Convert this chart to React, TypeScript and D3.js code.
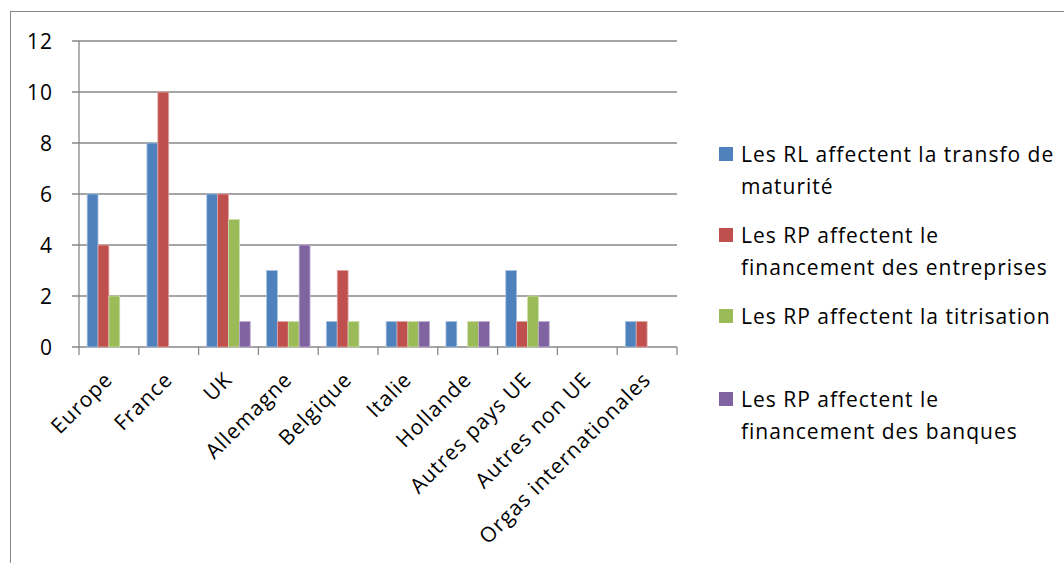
import React from "react";
import * as d3 from "d3";

const categories = [
  "Europe",
  "France",
  "UK",
  "Allemagne",
  "Belgique",
  "Italie",
  "Hollande",
  "Autres pays UE",
  "Autres non UE",
  "Orgas internationales",
];

const seriesNames = [
  ["Les RL affectent la transfo de", "maturité"],
  ["Les RP affectent le", "financement des entreprises"],
  ["Les RP affectent la titrisation"],
  ["Les RP affectent le", "financement des banques"],
];

const rlTransfo = [6, 8, 6, 3, 1, 1, 1, 3, 0, 1];
const rpEntreprises = [4, 10, 6, 1, 3, 1, 0, 1, 0, 1];
const rpTitrisation = [2, 0, 5, 1, 1, 1, 1, 2, 0, 0];
const rpBanques = [0, 0, 1, 4, 0, 1, 1, 1, 0, 0];

const yTicks = [0, 2, 4, 6, 8, 10, 12];

const colors = ["#4F81BD", "#C0504D", "#9BBB59", "#8064A2"];
const strokes = ["#a9c2e0", "#e0a8a6", "#cddcae", "#c0b2d0"];

const legendTop = [154, 235, 316, 399];

export default function App() {
  const W = 1064;
  const H = 563;
  const left = 79;
  const right = 677;
  const top = 41;
  const bottom = 347;
  const series = [rlTransfo, rpEntreprises, rpTitrisation, rpBanques];

  const x = d3.scaleBand<string>().domain(categories).range([left, right]).paddingInner(0).paddingOuter(0);
  const y = d3.scaleLinear().domain([0, 12]).range([bottom, top]);
  const bw = x.bandwidth() / (series.length + 1.5);
  const offset = (x.bandwidth() - bw * series.length) / 2;

  const font = "'Open Sans', sans-serif";
  const fs = 21;
  const ls = 1;
  const gridColor = "#878787";

  return (
    <div style={{ position: "fixed", left: 0, top: 0 }}>
      <svg width={W} height={H} style={{ display: "block", background: "#fff" }}>
        <rect x={10.5} y={11.5} width={W + 20} height={H + 20} fill="none" stroke={gridColor} strokeWidth={1} />
        {yTicks.map((t) => (
          <g key={t}>
            <line x1={72} x2={right} y1={y(t)} y2={y(t)} stroke={gridColor} strokeWidth={1.3} />
            <text x={53} y={y(t)} dy="0.36em" textAnchor="end" fontFamily={font} fontSize={fs} letterSpacing={ls} fill="#000">
              {t}
            </text>
          </g>
        ))}
        <line x1={left} x2={left} y1={top} y2={bottom} stroke={gridColor} strokeWidth={1.3} />
        {d3.range(categories.length + 1).map((i) => {
          const xx = left + i * x.step();
          return <line key={i} x1={xx} x2={xx} y1={bottom} y2={bottom + 8} stroke={gridColor} strokeWidth={1.3} />;
        })}
        {series.map((vals, si) =>
          vals.map((v, ci) =>
            v > 0 ? (
              <rect
                key={si + "-" + ci}
                x={(x(categories[ci]) as number) + offset + si * bw}
                y={y(v)}
                width={bw}
                height={y(0) - y(v)}
                fill={colors[si]}
                stroke={strokes[si]}
                strokeWidth={0.8}
              />
            ) : null
          )
        )}
        {categories.map((c) => {
          const cx = (x(c) as number) + x.bandwidth() / 2 + 5;
          const cy = 381;
          return (
            <text
              key={c}
              transform={`translate(${cx},${cy}) rotate(-45)`}
              textAnchor="end"
              fontFamily={font}
              fontSize={fs}
              letterSpacing={ls}
              fill="#000"
            >
              {c}
            </text>
          );
        })}
        {seriesNames.map((lines, i) => (
          <g key={i}>
            <rect x={719} y={legendTop[i] - 7} width={14} height={14} fill={colors[i]} />
            {lines.map((ln, li) => (
              <text key={li} x={741} y={legendTop[i] + li * 32} dy="0.36em" fontFamily={font} fontSize={fs} letterSpacing={ls} fill="#000">
                {ln}
              </text>
            ))}
          </g>
        ))}
      </svg>
    </div>
  );
}
